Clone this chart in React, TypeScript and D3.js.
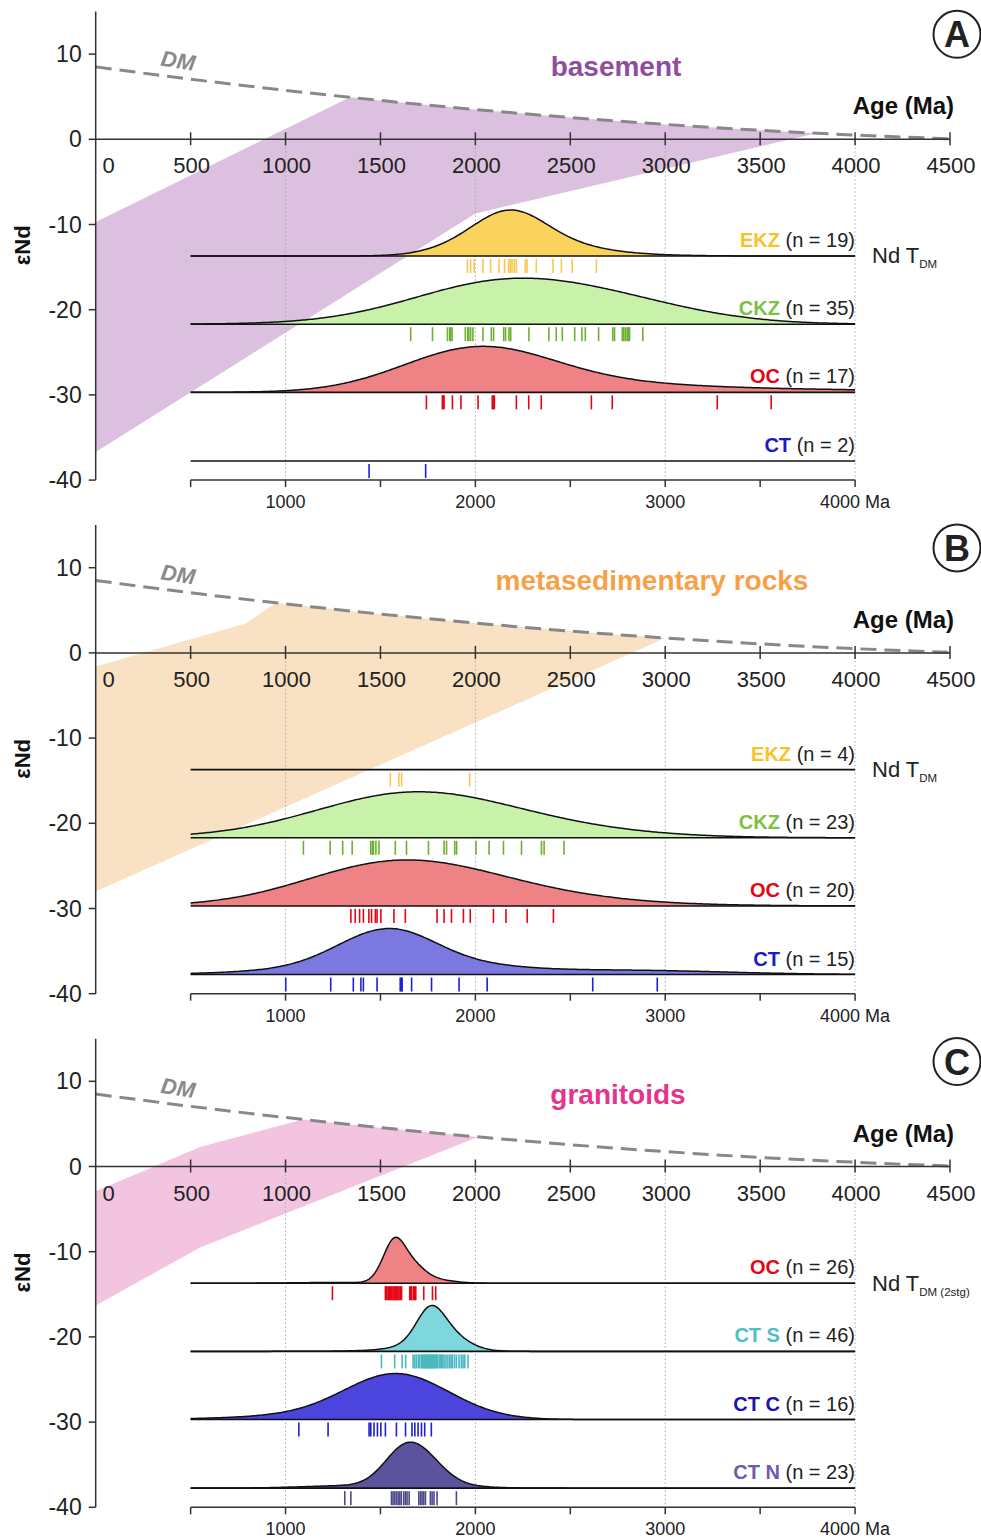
import * as d3 from "d3";
import React, { useEffect, useRef } from "react";

const width = 981;
const height = 1540;
const panelStep = 513.6;
const font = "'Liberation Sans', Arial, sans-serif";

// axes
const topTicks = [500, 1000, 1500, 2000, 2500, 3000, 3500, 4000, 4500];
const topLabels = [0, 500, 1000, 1500, 2000, 2500, 3000, 3500, 4000, 4500];
const yTicks = [10, 0, -10, -20, -30, -40];
const bottomTicks = [500, 1000, 1500, 2000, 2500, 3000, 3500, 4000];
const bottomLabels = [1000, 2000, 3000, 4000];
const gridAges = [1000, 2000, 3000, 4000];
const rowEps = [-13.7, -21.7, -29.7, -37.75];

// depleted mantle evolution (age Ma, eNd)
const dmAge = [0, 500, 1000, 1500, 2000, 2500, 3000, 3500, 4000, 4500];
const dmEps = [8.5, 7.06, 5.75, 4.56, 3.5, 2.56, 1.75, 1.06, 0.5, 0.06];

// shaded eNd fields
const basementFieldAge = [0, 1340, 1500, 2000, 2500, 3000, 3500, 3795, 2000, 0];
const basementFieldEps = [-9.7, 4.95, 4.56, 3.5, 2.56, 1.75, 1.06, 0.72, -8.7, -36.7];
const metasedFieldAge = [0, 790, 950, 1000, 1500, 2000, 2500, 3000, 0];
const metasedFieldEps = [-1.6, 3.45, 5.88, 5.75, 4.56, 3.5, 2.56, 1.75, -28.0];
const granitoidFieldAge = [0, 550, 1090, 1500, 2014, 550, 0];
const granitoidFieldEps = [-2.9, 2.3, 5.53, 4.56, 3.47, -9.5, -16.3];

// Nd TDM ages (Ma)
const basementEKZ = [1958, 1975, 1993, 2040, 2080, 2125, 2154, 2175, 2184, 2193, 2205, 2216, 2263, 2272, 2321, 2409, 2453, 2510, 2637];
const basementCKZ = [1659, 1774, 1853, 1865, 1870, 1877, 1947, 1960, 1965, 1975, 1987, 2040, 2084, 2096, 2149, 2159, 2177, 2186, 2282, 2387, 2426, 2458, 2523, 2561, 2579, 2649, 2724, 2733, 2774, 2782, 2791, 2800, 2805, 2812, 2882];
const basementOC = [1742, 1826, 1830, 1835, 1879, 1924, 2014, 2089, 2095, 2100, 2216, 2281, 2347, 2611, 2721, 3274, 3558];
const basementCT = [1440, 1738];

const metasedEKZ = [1552, 1597, 1611, 1970];
const metasedCKZ = [1094, 1235, 1301, 1351, 1449, 1458, 1463, 1476, 1492, 1578, 1637, 1753, 1835, 1848, 1891, 1901, 2003, 2072, 2148, 2243, 2348, 2362, 2467];
const metasedOC = [1344, 1367, 1390, 1410, 1439, 1453, 1473, 1482, 1502, 1571, 1631, 1798, 1835, 1874, 1937, 1973, 2095, 2161, 2273, 2411];
const metasedCT = [1001, 1238, 1357, 1397, 1410, 1482, 1604, 1610, 1614, 1664, 1769, 1914, 2062, 2618, 2958];

const granitoidOC = [1247, 1526, 1530, 1535, 1544, 1548, 1553, 1560, 1566, 1572, 1577, 1582, 1587, 1592, 1598, 1605, 1611, 1654, 1660, 1665, 1675, 1680, 1686, 1728, 1774, 1791];
const granitoidCTS = [1505, 1575, 1614, 1633, 1672, 1681, 1690, 1700, 1707, 1716, 1720, 1725, 1730, 1734, 1738, 1742, 1746, 1751, 1755, 1760, 1764, 1768, 1772, 1777, 1781, 1786, 1790, 1795, 1800, 1809, 1815, 1821, 1828, 1835, 1845, 1855, 1865, 1872, 1879, 1890, 1900, 1914, 1926, 1935, 1944, 1961];
const granitoidCTC = [1070, 1224, 1440, 1449, 1466, 1484, 1502, 1526, 1584, 1632, 1666, 1681, 1698, 1716, 1733, 1768];
const granitoidCTN = [1312, 1344, 1558, 1566, 1575, 1584, 1593, 1602, 1610, 1623, 1632, 1640, 1651, 1702, 1711, 1719, 1728, 1737, 1763, 1772, 1782, 1798, 1900];

const panels = [
  {
    letter: "A", title: "basement", titleColor: "#8e4e9f", titleX: 616, sub: "DM",
    fieldAge: basementFieldAge, fieldEps: basementFieldEps, fieldColor: "#dbc0df",
    series: [
      { name: "EKZ", values: basementEKZ, bw: 190, label: "#f9c22a", fill: "#fad35c", rug: "#f9c84e" },
      { name: "CKZ", values: basementCKZ, bw: 420, label: "#7cc242", fill: "#c8f2aa", rug: "#6cb030" },
      { name: "OC", values: basementOC, bw: 400, label: "#e30613", fill: "#ef8285", rug: "#e30613" },
      { name: "CT", values: basementCT, bw: 0, label: "#1a1ac8", fill: "none", rug: "#1f1fd6" },
    ],
  },
  {
    letter: "B", title: "metasedimentary rocks", titleColor: "#f6a148", titleX: 652, sub: "DM",
    fieldAge: metasedFieldAge, fieldEps: metasedFieldEps, fieldColor: "#f9e1c4",
    series: [
      { name: "EKZ", values: metasedEKZ, bw: 0, label: "#f9c22a", fill: "none", rug: "#f9c84e" },
      { name: "CKZ", values: metasedCKZ, bw: 430, label: "#7cc242", fill: "#c8f2aa", rug: "#6cb030" },
      { name: "OC", values: metasedOC, bw: 450, label: "#e30613", fill: "#ef8285", rug: "#e30613" },
      { name: "CT", values: metasedCT, bw: 250, label: "#1a1ac8", fill: "#7b78e0", rug: "#1f1fd6" },
    ],
  },
  {
    letter: "C", title: "granitoids", titleColor: "#e6338b", titleX: 618, sub: "DM (2stg)",
    fieldAge: granitoidFieldAge, fieldEps: granitoidFieldEps, fieldColor: "#f2c4e0",
    series: [
      { name: "OC", values: granitoidOC, bw: 60, label: "#e30613", fill: "#ef8285", rug: "#e30613" },
      { name: "CT S", values: granitoidCTS, bw: 70, label: "#4dbfc6", fill: "#7dd7dd", rug: "#4bb9c0" },
      { name: "CT C", values: granitoidCTC, bw: 260, label: "#1a10b8", fill: "#4b45dd", rug: "#2020cc" },
      { name: "CT N", values: granitoidCTN, bw: 110, label: "#6a5cb0", fill: "#5c539e", rug: "#4d4790" },
    ],
  },
];

// adaptive gaussian kernel density (Abramson)
function adaptiveKde(values: number[], h: number, grid: number[]) {
  const k = (u: number) => Math.exp(-0.5 * u * u) / Math.sqrt(2 * Math.PI);
  const pilot = values.map((v) => d3.mean(values, (w) => k((v - w) / h) / h) as number);
  const g = Math.exp(d3.mean(pilot, (p) => Math.log(p)) as number);
  const bw = pilot.map((p) => h * Math.sqrt(g / p));
  return grid.map((t) => d3.sum(values, (v, i) => k((t - v) / bw[i]) / bw[i]) / values.length);
}

export default function App() {
  const svgRef = useRef<SVGSVGElement>(null);

  useEffect(() => {
    const svg = d3.select(svgRef.current);
    svg.selectAll("*").remove();

    const x = d3.scaleLinear().domain([0, 4500]).range([95.7, 950]);
    const grid = d3.range(500, 4001, 10);
    const ridgeH = 46;

    panels.forEach((p, i) => {
      const off = i * panelStep;
      const y = d3.scaleLinear().domain([-40, 15]).range([480.1 + off, 11.5 + off]);
      const y0 = y(0);
      const g = svg.append("g");

      // shaded field
      const pts = p.fieldAge.map((a, k) => [a, p.fieldEps[k]] as [number, number]);
      g.append("path")
        .attr("d", d3.line<[number, number]>().x((d) => x(d[0])).y((d) => y(d[1]))(pts) + "Z")
        .attr("fill", p.fieldColor);

      // dotted grid
      g.selectAll(".grid")
        .data(gridAges)
        .join("line")
        .attr("x1", (d) => x(d)).attr("x2", (d) => x(d))
        .attr("y1", y0).attr("y2", y(-40))
        .attr("stroke", "#aaa").attr("stroke-width", 1).attr("stroke-dasharray", "1.5,2.5");

      // DM curve
      const dm = dmAge.map((a, k) => [a, dmEps[k]] as [number, number]);
      g.append("path")
        .attr("d", d3.line<[number, number]>().x((d) => x(d[0])).y((d) => y(d[1])).curve(d3.curveMonotoneX)(dm))
        .attr("fill", "none").attr("stroke", "#888").attr("stroke-width", 3).attr("stroke-dasharray", "16,8");
      g.append("text")
        .attr("x", 177).attr("y", y0 - 71)
        .attr("transform", `rotate(9,177,${y0 - 71})`)
        .attr("text-anchor", "middle").attr("font-size", 22).attr("font-weight", "bold")
        .attr("font-style", "italic").attr("fill", "#8a8a8a").text("DM");

      // y axis
      g.append("line").attr("x1", x(0)).attr("x2", x(0)).attr("y1", y(15)).attr("y2", y(-40))
        .attr("stroke", "#333").attr("stroke-width", 1.5);
      g.selectAll(".yt").data(yTicks).join("line")
        .attr("x1", x(0) - 7).attr("x2", x(0)).attr("y1", (d) => y(d)).attr("y2", (d) => y(d))
        .attr("stroke", "#333").attr("stroke-width", 1.5);
      g.selectAll(".yl").data(yTicks).join("text")
        .attr("x", x(0) - 14).attr("y", (d) => y(d) + 8)
        .attr("text-anchor", "end").attr("font-size", 23).attr("fill", "#222").text((d) => d);
      g.append("text")
        .attr("transform", `translate(22,${y0 + 106}) rotate(-90)`)
        .attr("text-anchor", "middle").attr("dy", "0.35em")
        .attr("font-size", 22).attr("font-weight", "bold").attr("fill", "#111").text("εNd");

      // top x axis at eNd = 0
      g.append("line").attr("x1", x(0)).attr("x2", x(4500)).attr("y1", y0).attr("y2", y0)
        .attr("stroke", "#333").attr("stroke-width", 1.5);
      g.selectAll(".xt").data(topTicks).join("line")
        .attr("x1", (d) => x(d)).attr("x2", (d) => x(d)).attr("y1", y0 - 7).attr("y2", y0 + 6)
        .attr("stroke", "#333").attr("stroke-width", 1.5);
      g.selectAll(".xl").data(topLabels).join("text")
        .attr("x", (d) => (d === 0 ? x(d) + 13 : x(d) + 1)).attr("y", y0 + 34)
        .attr("text-anchor", "middle").attr("font-size", 22).attr("fill", "#222").text((d) => d);
      g.append("text").attr("x", 954).attr("y", y0 - 25).attr("text-anchor", "end")
        .attr("font-size", 24).attr("font-weight", "bold").attr("fill", "#111").text("Age (Ma)");

      // bottom age axis
      g.append("line").attr("x1", x(500)).attr("x2", x(4000)).attr("y1", y(-40)).attr("y2", y(-40))
        .attr("stroke", "#333").attr("stroke-width", 1.5);
      g.selectAll(".bt").data(bottomTicks).join("line")
        .attr("x1", (d) => x(d)).attr("x2", (d) => x(d)).attr("y1", y(-40)).attr("y2", y(-40) + 7)
        .attr("stroke", "#333").attr("stroke-width", 1.5);
      g.selectAll(".bl").data(bottomLabels).join("text")
        .attr("x", (d) => x(d)).attr("y", y(-40) + 28)
        .attr("text-anchor", "middle").attr("font-size", 18).attr("fill", "#222")
        .text((d) => (d === 4000 ? "4000 Ma" : String(d)));

      // title and letter
      g.append("text").attr("x", p.titleX).attr("y", y0 - 63).attr("text-anchor", "middle")
        .attr("font-size", 28).attr("font-weight", "bold").attr("fill", p.titleColor).text(p.title);
      g.append("circle").attr("cx", 957).attr("cy", y0 - 105).attr("r", 23.5)
        .attr("fill", "#fff").attr("stroke", "#222").attr("stroke-width", 2);
      g.append("text").attr("x", 957).attr("y", y0 - 105 + 13).attr("text-anchor", "middle")
        .attr("font-size", 36).attr("font-weight", "bold").attr("fill", "#222").text(p.letter);

      // Nd TDM label
      const nd = g.append("text").attr("x", 872).attr("y", y0 + 124).attr("font-size", 22).attr("fill", "#222");
      nd.append("tspan").text("Nd T");
      nd.append("tspan").attr("font-size", 11.5).attr("dy", 5).text(p.sub);

      // ridges
      p.series.forEach((s, r) => {
        const yb = y(rowEps[r]);
        if (s.bw > 0) {
          const dens = adaptiveKde(s.values, s.bw, grid);
          const mx = d3.max(dens) as number;
          const pts2 = grid.map((a, k) => [a, dens[k] / mx] as [number, number]);
          g.append("path")
            .attr("d", d3.area<[number, number]>().x((d) => x(d[0])).y0(yb).y1((d) => yb - d[1] * ridgeH)(pts2))
            .attr("fill", s.fill);
          g.append("path")
            .attr("d", d3.line<[number, number]>().x((d) => x(d[0])).y((d) => yb - d[1] * ridgeH)(pts2))
            .attr("fill", "none").attr("stroke", "#111").attr("stroke-width", 1.5);
        }
        g.append("line").attr("x1", x(500)).attr("x2", x(4000)).attr("y1", yb).attr("y2", yb)
          .attr("stroke", "#111").attr("stroke-width", 1.6);
        g.selectAll(".rug" + r).data(s.values).join("line")
          .attr("x1", (d) => x(d)).attr("x2", (d) => x(d)).attr("y1", yb + 3).attr("y2", yb + 17)
          .attr("stroke", s.rug).attr("stroke-width", 1.6);
        const t = g.append("text").attr("x", 855).attr("y", yb - 9).attr("text-anchor", "end").attr("font-size", 20);
        t.append("tspan").attr("font-weight", "bold").attr("fill", s.label).text(s.name);
        t.append("tspan").attr("fill", "#222").text(` (n = ${s.values.length})`);
      });
    });
  }, []);

  return (
    <svg
      ref={svgRef}
      width={width}
      height={height}
      fontFamily={font}
      style={{ position: "absolute", left: 0, top: 0, background: "#fff" }}
    />
  );
}
